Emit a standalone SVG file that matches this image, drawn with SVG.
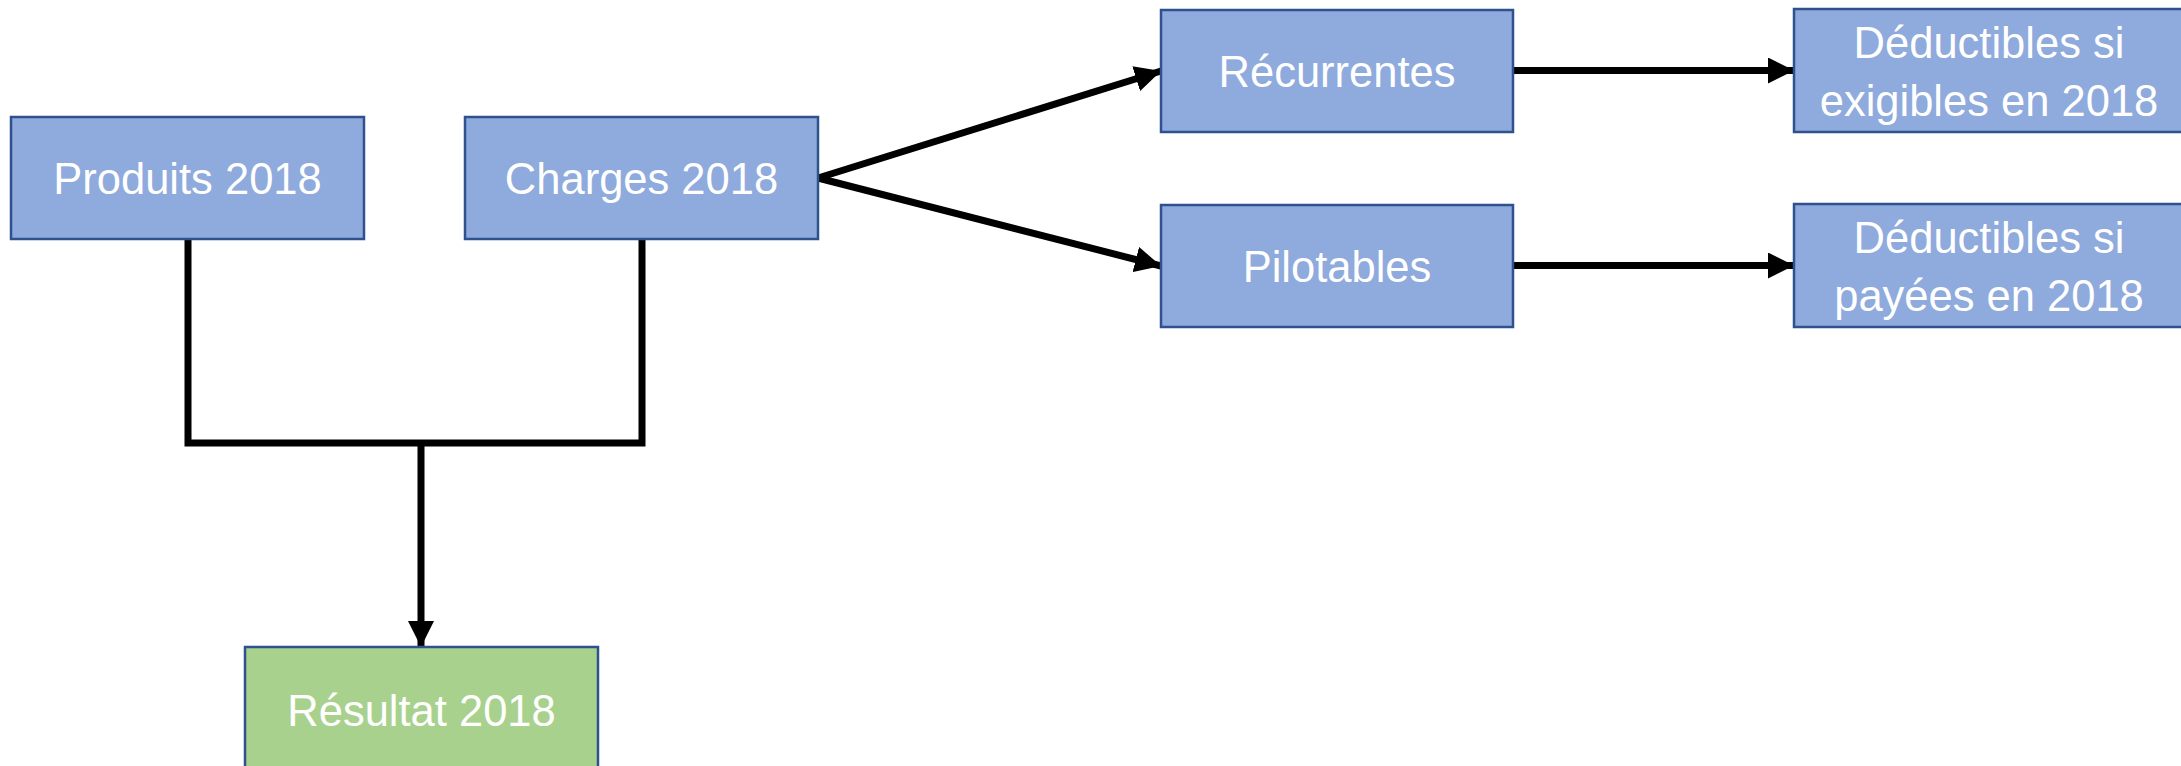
<svg xmlns="http://www.w3.org/2000/svg" width="2181" height="766" viewBox="0 0 2181 766">
<defs>
<style>
.box{fill:#8FAADC;stroke:#2F528F;stroke-width:2.5}
.green{fill:#A9D18E;stroke:#2F528F;stroke-width:2.5}
.lbl{font-family:"Liberation Sans",Arial,sans-serif;font-size:43.5px;fill:#FFFFFF;text-anchor:middle}
.conn{fill:none;stroke:#000000;stroke-width:7}
</style>
<marker id="arrow" markerUnits="userSpaceOnUse" markerWidth="26" markerHeight="26" viewBox="0 0 24 24" refX="24" refY="12" orient="auto">
<path d="M0,0 L24,12 L0,24 Z" fill="#000000"/>
</marker>
</defs>
<rect width="2181" height="766" fill="#FFFFFF"/>
<g id="connectors">
<polyline class="conn" points="188,239 188,443 642,443 642,239"/>
<line class="conn" x1="421" y1="443" x2="421" y2="647" marker-end="url(#arrow)"/>
<line class="conn" x1="818" y1="178" x2="1161" y2="71" marker-end="url(#arrow)"/>
<line class="conn" x1="818" y1="178" x2="1161" y2="266" marker-end="url(#arrow)"/>
<line class="conn" x1="1513" y1="70.5" x2="1794" y2="70.5" marker-end="url(#arrow)"/>
<line class="conn" x1="1513" y1="265.5" x2="1794" y2="265.5" marker-end="url(#arrow)"/>
</g>
<g id="produits">
<rect class="box" x="11" y="117" width="353" height="122"/>
<text class="lbl" x="187.5" y="194">Produits 2018</text>
</g>
<g id="charges">
<rect class="box" x="465" y="117" width="353" height="122"/>
<text class="lbl" x="641.5" y="194">Charges 2018</text>
</g>
<g id="recurrentes">
<rect class="box" x="1161" y="10" width="352" height="122"/>
<text class="lbl" x="1337" y="87">Récurrentes</text>
</g>
<g id="pilotables">
<rect class="box" x="1161" y="205" width="352" height="122"/>
<text class="lbl" x="1337" y="282">Pilotables</text>
</g>
<g id="deductibles-exigibles">
<rect class="box" x="1794" y="9" width="400" height="123"/>
<text class="lbl" x="1989" y="58">Déductibles si</text>
<text class="lbl" x="1989" y="116">exigibles en 2018</text>
</g>
<g id="deductibles-payees">
<rect class="box" x="1794" y="204" width="400" height="123"/>
<text class="lbl" x="1989" y="253">Déductibles si</text>
<text class="lbl" x="1989" y="311">payées en 2018</text>
</g>
<g id="resultat">
<rect class="green" x="245" y="647" width="353" height="130"/>
<text class="lbl" x="421.5" y="726">Résultat 2018</text>
</g>
</svg>
